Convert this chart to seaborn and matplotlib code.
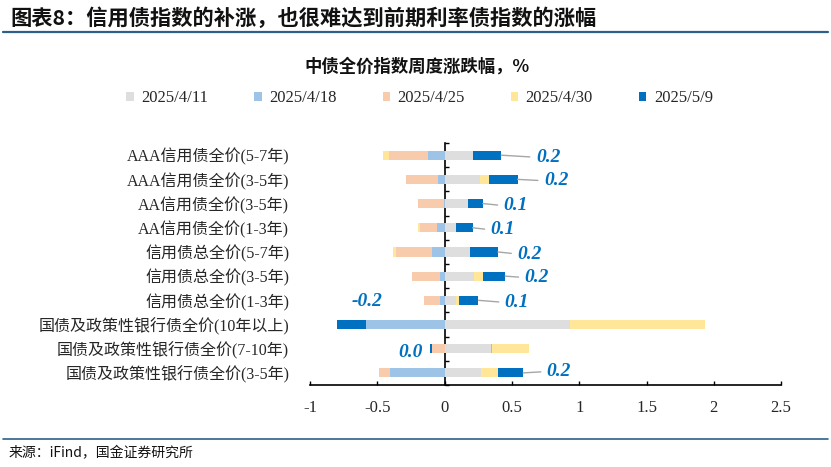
import numpy as np
import pandas as pd
import seaborn as sns
import matplotlib.pyplot as plt
from matplotlib.patches import Patch
from matplotlib.lines import Line2D

# categories, top to bottom
categories = [
    'AAA信用债全价(5-7年)', 'AAA信用债全价(3-5年)', 'AA信用债全价(3-5年)', 'AA信用债全价(1-3年)',
    '信用债总全价(5-7年)', '信用债总全价(3-5年)', '信用债总全价(1-3年)',
    '国债及政策性银行债全价(10年以上)', '国债及政策性银行债全价(7-10年)', '国债及政策性银行债全价(3-5年)',
]
weeks = ['2025/4/11', '2025/4/18', '2025/4/25', '2025/4/30', '2025/5/9']

# weekly change, %
w0411 = [0.21, 0.265, 0.173, 0.084, 0.186, 0.22, 0.087, 0.934, 0.344, 0.272]
w0418 = [-0.12, -0.05, -0.005, -0.057, -0.094, -0.037, -0.037, -0.584, 0.007, -0.406]
w0425 = [-0.29, -0.235, -0.196, -0.129, -0.267, -0.203, -0.114, 0.0, -0.097, -0.079]
w0430 = [-0.045, 0.064, 0.0, -0.01, -0.022, 0.062, 0.02, 1.0, 0.277, 0.124]
w0509 = [0.21, 0.213, 0.111, 0.124, 0.21, 0.168, 0.144, -0.213, -0.01, 0.188]

colors = ['#DEDEDE', '#9DC3E6', '#F8CBAD', '#FFE699', '#0070C0']

df = pd.DataFrame({'cat': categories})
for name, vals in zip(weeks, [w0411, w0418, w0425, w0430, w0509]):
    df[name] = vals

sns.set_theme(style='white')
plt.rcParams['font.family'] = ['Liberation Serif', 'Noto Sans CJK SC']
cjk = ['Noto Sans CJK SC', 'DejaVu Sans']

fig = plt.figure(figsize=(8.31, 4.67), dpi=100)
ax = fig.add_axes([0.373, 0.1756, 0.567, 0.518])

# diverging stack: positives go right, negatives go left, drawn outer-first
v = df[weeks].to_numpy()
pos = np.clip(v, 0, None).cumsum(axis=1)
neg = np.clip(v, None, 0).cumsum(axis=1)
for k in reversed(range(len(weeks))):
    for cum in (pos, neg):
        sns.barplot(x=cum[:, k], y=df['cat'], order=categories, orient='h',
                    color=colors[k], width=0.38, saturation=1, errorbar=None,
                    linewidth=0, ax=ax)

xmin, xmax = -1, 2.5
ax.set_xlim(xmin, xmax)
ax.set_xticks(np.arange(-1, 2.51, 0.5))
ax.set_xticklabels(['-1', '-0.5', '0', '0.5', '1', '1.5', '2', '2.5'])
ax.set_xlabel('')
ax.set_ylabel('')
for s in ['top', 'right', 'left']:
    ax.spines[s].set_visible(False)
ax.spines['bottom'].set_color('black')
ax.spines['bottom'].set_linewidth(1.2)
ax.tick_params(axis='x', direction='in', length=3, width=1, color='black',
               labelsize=12, pad=11, bottom=True)
ax.tick_params(axis='y', length=0, labelsize=11.5, pad=15)

# zero axis with ticks between categories
sec = ax.secondary_yaxis((0 - xmin) / (xmax - xmin))
sec.set_yticks(np.arange(len(categories) + 1) - 0.5)
sec.set_yticklabels([])
sec.tick_params(direction='in', length=3, width=1, color='black')
sec.spines['left'].set_color('black')
sec.spines['left'].set_linewidth(1.2)

# labels for the latest week
last = df[weeks[-1]].to_numpy()
ends = np.where(last >= 0, pos[:, -1], neg[:, -1])
offsets = [(25, -1.5), (19, -1), (15, -1.5), (13, -1.5), (14, -1.5),
           (14, -1), (19, -1.5), (10, 16.5), (-23, -3), (17, 1)]
leaders = [True] * 7 + [False, False, True]
for i, (val, end) in enumerate(zip(last, ends)):
    txt = f'{val:.1f}'
    if txt == '-0.0':
        txt = '0.0'
    arrow = dict(arrowstyle='-', color='#A6A6A6', lw=1, shrinkA=2, shrinkB=0,
                 relpos=(0, 0.5)) if leaders[i] else None
    ax.annotate(txt, xy=(end, i), xytext=offsets[i], textcoords='offset points',
                ha='left', va='center', fontsize=14, color='#0070C0',
                fontweight='bold', fontstyle='italic', family='Liberation Serif',
                arrowprops=arrow)

# legend
handles = [Patch(facecolor=c, edgecolor='none') for c in colors]
fig.legend(handles, weeks, loc='center', bbox_to_anchor=(0.505, 0.79), ncol=5,
           frameon=False, prop={'family': 'Liberation Serif', 'size': 12},
           handlelength=0.45, handleheight=0.45, handletextpad=0.45,
           columnspacing=2.75)

# titles and frame lines
fig.text(0.012, 0.961, '图表8：信用债指数的补涨，也很难达到前期利率债指数的涨幅',
         ha='left', va='center', fontsize=15.3, fontweight='bold', family=cjk,
         color='#111111')
fig.add_artist(Line2D([0.004, 0.996], [0.9315, 0.9315], color='#2C5F8A', lw=1.6))
fig.text(0.502, 0.858, '中债全价指数周度涨跌幅，%', ha='center', va='center',
         fontsize=12.5, fontweight='bold', family=cjk, color='#111111')
fig.add_artist(Line2D([0.004, 0.996], [0.06, 0.06], color='#2C5F8A', lw=1.2))
fig.text(0.01, 0.03, '来源：iFind，国金证券研究所', ha='left', va='center',
         fontsize=10, family=cjk, color='#111111')

fig.savefig('out.png', dpi=100)
